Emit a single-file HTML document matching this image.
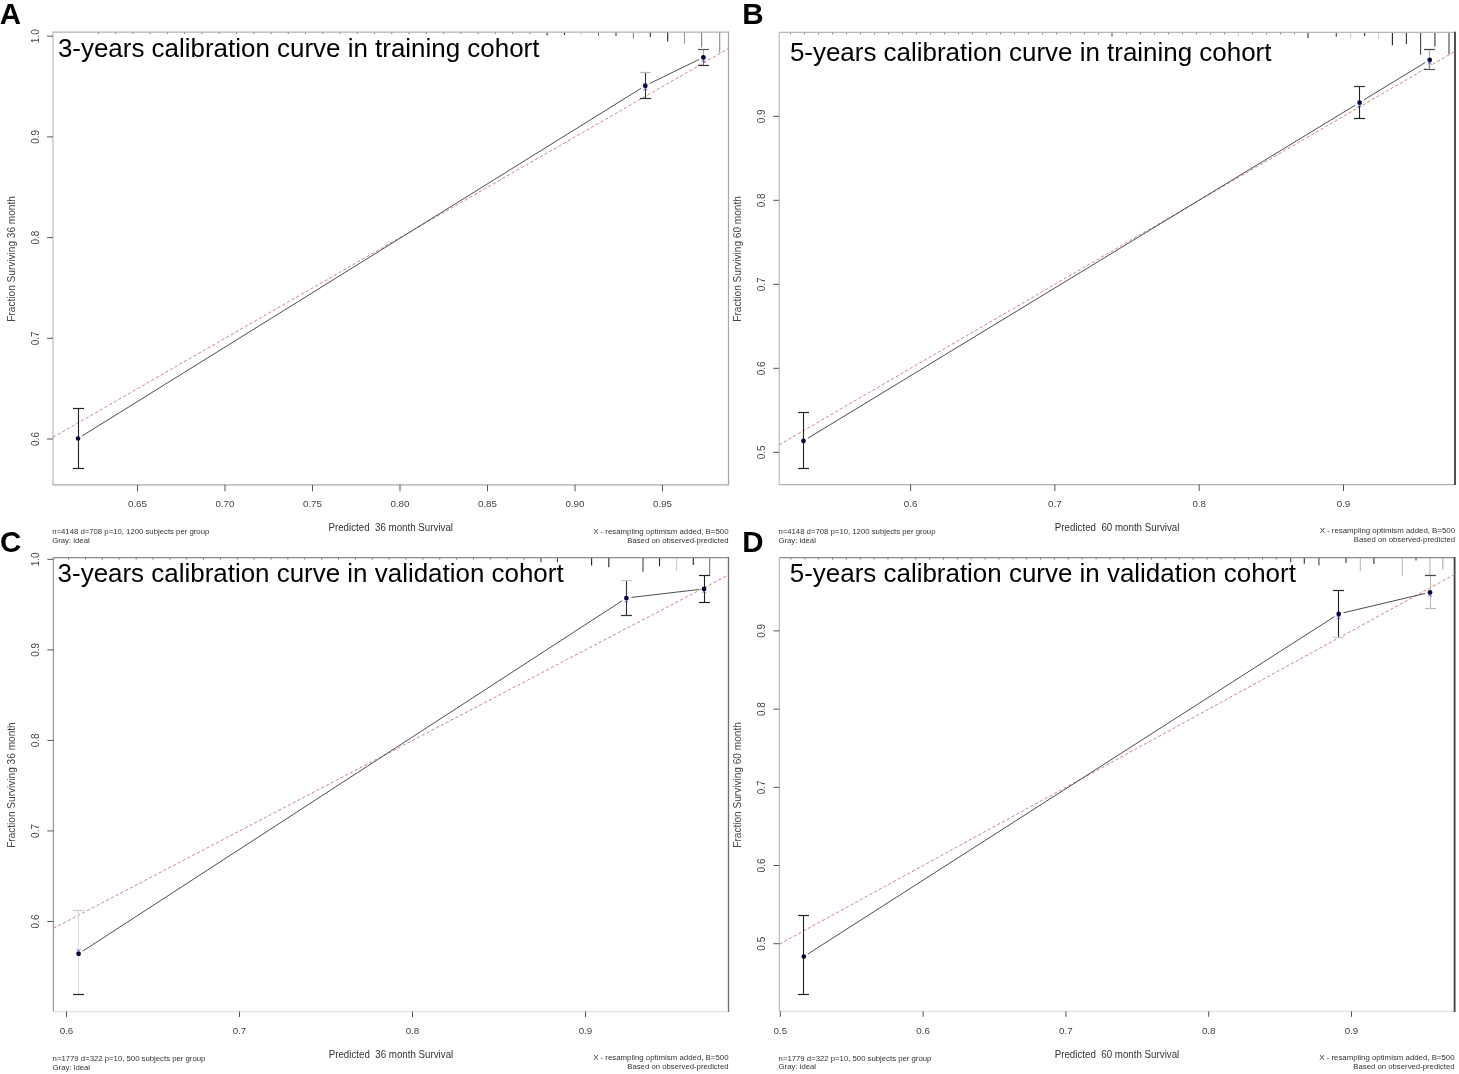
<!DOCTYPE html><html><head><meta charset="utf-8"><title>Calibration curves</title><style>html,body{margin:0;padding:0;background:#fff;}svg{display:block;}text{font-family:"Liberation Sans",Arial,sans-serif;}</style></head><body>
<svg width="1459" height="1074" viewBox="0 0 1459 1074">
<rect width="1459" height="1074" fill="#fff"/>
<text transform="translate(-0.3 24.3)" font-size="29.5" font-weight="bold" fill="#000">A</text>
<path d="M98.4 32v2M115.66 32v2M132.92 32v2M150.18 32v2M167.44 32v2M184.7 32v2M201.96 32v2M219.22 32v2M236.48 32v2M253.74 32v2M271 32v2M288.26 32v2M305.52 32v2M322.78 32v2M340.04 32v2M357.3 32v2M374.56 32v2M391.82 32v2M409.08 32v2M426.34 32v2M443.6 32v2M460.86 32v2M478.12 32v2M495.38 32v2M512.64 32v2M529.9 32v2" stroke="#777" stroke-width="1" fill="none"/>
<path d="M547.1 32V35.6" stroke="#333" stroke-width="1.1" fill="none"/>
<path d="M564.5 32V35" stroke="#333" stroke-width="1.1" fill="none"/>
<path d="M581.4 32V34.2" stroke="#ccc" stroke-width="1.1" fill="none"/>
<path d="M598.5 32V36" stroke="#777" stroke-width="1.1" fill="none"/>
<path d="M616 32V36" stroke="#333" stroke-width="1.1" fill="none"/>
<path d="M633.4 32V38.6" stroke="#888" stroke-width="1.1" fill="none"/>
<path d="M650.3 32V37.2" stroke="#333" stroke-width="1.1" fill="none"/>
<path d="M667.7 32V41.6" stroke="#222" stroke-width="1.1" fill="none"/>
<path d="M684.5 32V43.9" stroke="#999" stroke-width="1.1" fill="none"/>
<path d="M701.6 32V47.6" stroke="#888" stroke-width="1.1" fill="none"/>
<path d="M719.7 32V52.6" stroke="#888" stroke-width="1.1" fill="none"/>
<path d="M53 32H728.5" stroke="#b2b2b2" stroke-width="1.25" fill="none"/>
<path d="M53 31.4V485.4" stroke="#bdbdbd" stroke-width="1.25" fill="none"/>
<path d="M53 484.8H728.5" stroke="#a8a8a8" stroke-width="1.25" fill="none"/>
<path d="M728.5 31.4V485.4" stroke="#a8a8a8" stroke-width="1.2" fill="none"/>
<path d="M47 439H53" stroke="#555" stroke-width="1"/>
<text transform="translate(38.7 439) rotate(-90)" text-anchor="middle" font-size="10" fill="#444">0.6</text>
<path d="M47 338.3H53" stroke="#555" stroke-width="1"/>
<text transform="translate(38.7 338.3) rotate(-90)" text-anchor="middle" font-size="10" fill="#444">0.7</text>
<path d="M47 237.6H53" stroke="#555" stroke-width="1"/>
<text transform="translate(38.7 237.6) rotate(-90)" text-anchor="middle" font-size="10" fill="#444">0.8</text>
<path d="M47 136.9H53" stroke="#555" stroke-width="1"/>
<text transform="translate(38.7 136.9) rotate(-90)" text-anchor="middle" font-size="10" fill="#444">0.9</text>
<path d="M47 36.2H53" stroke="#555" stroke-width="1"/>
<text transform="translate(38.7 36.2) rotate(-90)" text-anchor="middle" font-size="10" fill="#444">1.0</text>
<path d="M137.5 484.8V491.3" stroke="#555" stroke-width="1"/>
<text x="137.5" y="507" text-anchor="middle" font-size="9.8" fill="#444">0.65</text>
<path d="M225 484.8V491.3" stroke="#555" stroke-width="1"/>
<text x="225" y="507" text-anchor="middle" font-size="9.8" fill="#444">0.70</text>
<path d="M312.5 484.8V491.3" stroke="#555" stroke-width="1"/>
<text x="312.5" y="507" text-anchor="middle" font-size="9.8" fill="#444">0.75</text>
<path d="M400 484.8V491.3" stroke="#555" stroke-width="1"/>
<text x="400" y="507" text-anchor="middle" font-size="9.8" fill="#444">0.80</text>
<path d="M487.5 484.8V491.3" stroke="#555" stroke-width="1"/>
<text x="487.5" y="507" text-anchor="middle" font-size="9.8" fill="#444">0.85</text>
<path d="M575 484.8V491.3" stroke="#555" stroke-width="1"/>
<text x="575" y="507" text-anchor="middle" font-size="9.8" fill="#444">0.90</text>
<path d="M662.5 484.8V491.3" stroke="#555" stroke-width="1"/>
<text x="662.5" y="507" text-anchor="middle" font-size="9.8" fill="#444">0.95</text>
<text transform="translate(15 258.9) rotate(-90)" text-anchor="middle" font-size="10.3" fill="#444" textLength="125.5" lengthAdjust="spacingAndGlyphs">Fraction Surviving 36 month</text>
<text x="390.75" y="531.4" text-anchor="middle" font-size="10.3" fill="#333" textLength="124.6" lengthAdjust="spacingAndGlyphs">Predicted&#160; 36 month Survival</text>
<text x="52.2" y="534" font-size="7.75" fill="#333">n=4148 d=708 p=10, 1200 subjects per group</text>
<text x="52.2" y="542.9" font-size="7.75" fill="#333">Gray: ideal</text>
<text x="728.5" y="533.6" text-anchor="end" font-size="7.85" fill="#333">X - resampling optimism added, B=500</text>
<text x="728.5" y="542.6" text-anchor="end" font-size="7.75" fill="#333">Based on observed-predicted</text>
<text x="57.9" y="57" font-size="25.95" fill="#000">3-years calibration curve in training cohort</text>
<path d="M53 437.27L728.5 48.57" stroke="#cf7b7b" stroke-width="0.95" stroke-dasharray="3.2 2.2" fill="none"/>
<path d="M82.25 435.86L641.05 88.34M649.79 83.5L698.91 59.5" stroke="#3a3a3a" stroke-width="0.9" fill="none"/>
<path d="M78.5 408.5V438.5" stroke="#222" stroke-width="1.1" fill="none"/>
<path d="M78.5 438.5V468.5" stroke="#222" stroke-width="1.1" fill="none"/>
<path d="M73 408.5H84" stroke="#222" stroke-width="1.2" fill="none"/>
<path d="M73 468.5H84" stroke="#222" stroke-width="1.2" fill="none"/>
<circle cx="78" cy="438.5" r="2.35" fill="#06063a"/>
<path d="M645.5 72.5V85.7" stroke="#333" stroke-width="1.1" fill="none"/>
<path d="M645.5 85.7V98.5" stroke="#333" stroke-width="1.1" fill="none"/>
<path d="M640 72.5H651" stroke="#bbb" stroke-width="1.2" fill="none"/>
<path d="M640 98.5H651" stroke="#333" stroke-width="1.2" fill="none"/>
<path d="M643.3 87l4 3M647.3 87l-4 3" stroke="#6a6ad8" stroke-width="0.9" fill="none"/>
<circle cx="645.3" cy="85.7" r="2.35" fill="#06063a"/>
<path d="M703.5 49.5V57.3" stroke="#aaa" stroke-width="1.1" fill="none"/>
<path d="M703.5 57.3V65.5" stroke="#666" stroke-width="1.1" fill="none"/>
<path d="M698 49.5H709" stroke="#555" stroke-width="1.2" fill="none"/>
<path d="M698 65.5H709" stroke="#333" stroke-width="1.2" fill="none"/>
<path d="M701.4 58.9l4 3M705.4 58.9l-4 3" stroke="#6a6ad8" stroke-width="0.9" fill="none"/>
<circle cx="703.4" cy="57.3" r="2.35" fill="#06063a"/>
<text transform="translate(742.3 24.2)" font-size="29.5" font-weight="bold" fill="#000">B</text>
<path d="M790.5 32.3v2M804.5 32.3v2M818.5 32.3v2M832.5 32.3v2M846.5 32.3v2M860.5 32.3v2M874.5 32.3v2M888.5 32.3v2M902.5 32.3v2M916.5 32.3v2M930.5 32.3v2M944.5 32.3v2M958.5 32.3v2M972.5 32.3v2M986.5 32.3v2M1000.5 32.3v2M1014.5 32.3v2M1028.5 32.3v2M1042.5 32.3v2M1056.5 32.3v2M1070.5 32.3v2M1084.5 32.3v2M1098.5 32.3v2M1126.5 32.3v2M1140.5 32.3v2M1154.5 32.3v2M1168.5 32.3v2M1182.5 32.3v2M1196.5 32.3v2M1210.5 32.3v2M1224.5 32.3v2M1252.5 32.3v2M1266.5 32.3v2M1280.5 32.3v2M1294.5 32.3v2" stroke="#777" stroke-width="1" fill="none"/>
<path d="M1112 32.3V36.5" stroke="#555" stroke-width="1.1" fill="none"/>
<path d="M1238.4 32.3V36.5" stroke="#ccc" stroke-width="1.1" fill="none"/>
<path d="M1308 32.3V38.1" stroke="#333" stroke-width="1.1" fill="none"/>
<path d="M1336.3 32.3V36.8" stroke="#444" stroke-width="1.1" fill="none"/>
<path d="M1350.6 32.3V38" stroke="#ccc" stroke-width="1.1" fill="none"/>
<path d="M1364.6 32.3V36" stroke="#333" stroke-width="1.1" fill="none"/>
<path d="M1378.5 32.3V38.5" stroke="#ccc" stroke-width="1.1" fill="none"/>
<path d="M1392.4 32.3V45.3" stroke="#222" stroke-width="1.1" fill="none"/>
<path d="M1406.4 32.3V44" stroke="#333" stroke-width="1.1" fill="none"/>
<path d="M1420.6 32.3V54.7" stroke="#444" stroke-width="1.1" fill="none"/>
<path d="M1434.9 32.3V46.6" stroke="#333" stroke-width="1.1" fill="none"/>
<path d="M1449 32.3V54.3" stroke="#444" stroke-width="1.1" fill="none"/>
<path d="M779.2 32.3H1455" stroke="#b8b8b8" stroke-width="1.25" fill="none"/>
<path d="M779.2 31.7V485.1" stroke="#c0c0c0" stroke-width="1.25" fill="none"/>
<path d="M779.2 484.5H1455" stroke="#b0b0b0" stroke-width="1.25" fill="none"/>
<path d="M1455 31.7V485.1" stroke="#404040" stroke-width="1.8" fill="none"/>
<path d="M773.2 452.3H779.2" stroke="#555" stroke-width="1"/>
<text transform="translate(764.9 452.3) rotate(-90)" text-anchor="middle" font-size="10" fill="#444">0.5</text>
<path d="M773.2 368.3H779.2" stroke="#555" stroke-width="1"/>
<text transform="translate(764.9 368.3) rotate(-90)" text-anchor="middle" font-size="10" fill="#444">0.6</text>
<path d="M773.2 284.3H779.2" stroke="#555" stroke-width="1"/>
<text transform="translate(764.9 284.3) rotate(-90)" text-anchor="middle" font-size="10" fill="#444">0.7</text>
<path d="M773.2 200.3H779.2" stroke="#555" stroke-width="1"/>
<text transform="translate(764.9 200.3) rotate(-90)" text-anchor="middle" font-size="10" fill="#444">0.8</text>
<path d="M773.2 116.3H779.2" stroke="#555" stroke-width="1"/>
<text transform="translate(764.9 116.3) rotate(-90)" text-anchor="middle" font-size="10" fill="#444">0.9</text>
<path d="M910.6 484.5V491" stroke="#555" stroke-width="1"/>
<text x="910.6" y="507" text-anchor="middle" font-size="9.8" fill="#444">0.6</text>
<path d="M1054.9 484.5V491" stroke="#555" stroke-width="1"/>
<text x="1054.9" y="507" text-anchor="middle" font-size="9.8" fill="#444">0.7</text>
<path d="M1199.2 484.5V491" stroke="#555" stroke-width="1"/>
<text x="1199.2" y="507" text-anchor="middle" font-size="9.8" fill="#444">0.8</text>
<path d="M1343.5 484.5V491" stroke="#555" stroke-width="1"/>
<text x="1343.5" y="507" text-anchor="middle" font-size="9.8" fill="#444">0.9</text>
<text transform="translate(741.2 258.9) rotate(-90)" text-anchor="middle" font-size="10.3" fill="#444" textLength="125.5" lengthAdjust="spacingAndGlyphs">Fraction Surviving 60 month</text>
<text x="1117.1" y="531.1" text-anchor="middle" font-size="10.3" fill="#333" textLength="124.6" lengthAdjust="spacingAndGlyphs">Predicted&#160; 60 month Survival</text>
<text x="778.4" y="533.7" font-size="7.75" fill="#333">n=4148 d=708 p=10, 1200 subjects per group</text>
<text x="778.4" y="542.6" font-size="7.75" fill="#333">Gray: ideal</text>
<text x="1455" y="533.3" text-anchor="end" font-size="7.85" fill="#333">X - resampling optimism added, B=500</text>
<text x="1455" y="542.3" text-anchor="end" font-size="7.75" fill="#333">Based on observed-predicted</text>
<text x="789.9" y="61.4" font-size="25.95" fill="#000">5-years calibration curve in training cohort</text>
<path d="M779.2 444.79L1455 51.39" stroke="#cf7b7b" stroke-width="0.95" stroke-dasharray="3.2 2.2" fill="none"/>
<path d="M807.77 438.3L1355.33 105.1M1363.87 99.9L1425.43 62.4" stroke="#3a3a3a" stroke-width="0.9" fill="none"/>
<path d="M803.5 412.5V440.9" stroke="#222" stroke-width="1.1" fill="none"/>
<path d="M803.5 440.9V468.5" stroke="#222" stroke-width="1.1" fill="none"/>
<path d="M798 412.5H809" stroke="#222" stroke-width="1.2" fill="none"/>
<path d="M798 468.5H809" stroke="#222" stroke-width="1.2" fill="none"/>
<circle cx="803.5" cy="440.9" r="2.35" fill="#06063a"/>
<path d="M1359.5 86.5V102.5" stroke="#222" stroke-width="1.1" fill="none"/>
<path d="M1359.5 102.5V118.5" stroke="#222" stroke-width="1.1" fill="none"/>
<path d="M1354 86.5H1365" stroke="#333" stroke-width="1.2" fill="none"/>
<path d="M1354 118.5H1365" stroke="#222" stroke-width="1.2" fill="none"/>
<path d="M1357.6 104l4 3M1361.6 104l-4 3" stroke="#6a6ad8" stroke-width="0.9" fill="none"/>
<circle cx="1359.6" cy="102.5" r="2.35" fill="#06063a"/>
<path d="M1429.5 49.5V59.8" stroke="#aaa" stroke-width="1.1" fill="none"/>
<path d="M1429.5 59.8V69.5" stroke="#999" stroke-width="1.1" fill="none"/>
<path d="M1424 49.5H1435" stroke="#444" stroke-width="1.2" fill="none"/>
<path d="M1424 69.5H1435" stroke="#555" stroke-width="1.2" fill="none"/>
<path d="M1427.7 61.5l4 3M1431.7 61.5l-4 3" stroke="#6a6ad8" stroke-width="0.9" fill="none"/>
<circle cx="1429.7" cy="59.8" r="2.35" fill="#06063a"/>
<text transform="translate(0 552.3)" font-size="29.5" font-weight="bold" fill="#000">C</text>
<path d="M68.6 557.7v2M85.47 557.7v2M102.34 557.7v2M119.21 557.7v2M136.08 557.7v2M152.95 557.7v2M169.82 557.7v2M186.69 557.7v2M203.56 557.7v2M220.43 557.7v2M237.3 557.7v2M254.17 557.7v2M271.04 557.7v2M287.91 557.7v2M304.78 557.7v2M321.65 557.7v2M338.52 557.7v2M355.39 557.7v2M372.26 557.7v2M389.13 557.7v2M406 557.7v2M422.87 557.7v2M439.74 557.7v2M456.61 557.7v2M473.48 557.7v2M490.35 557.7v2M507.22 557.7v2M524.09 557.7v2" stroke="#777" stroke-width="1" fill="none"/>
<path d="M541 557.7V562.2" stroke="#444" stroke-width="1.1" fill="none"/>
<path d="M557.4 557.7V562.2" stroke="#444" stroke-width="1.1" fill="none"/>
<path d="M591.6 557.7V565.6" stroke="#222" stroke-width="1.1" fill="none"/>
<path d="M608.8 557.7V567.3" stroke="#222" stroke-width="1.1" fill="none"/>
<path d="M643 557.7V571.8" stroke="#444" stroke-width="1.1" fill="none"/>
<path d="M659.5 557.7V566.3" stroke="#222" stroke-width="1.1" fill="none"/>
<path d="M676.6 557.7V571.1" stroke="#ccc" stroke-width="1.1" fill="none"/>
<path d="M693.3 557.7V565" stroke="#222" stroke-width="1.1" fill="none"/>
<path d="M709.7 557.7V575.2" stroke="#777" stroke-width="1.1" fill="none"/>
<path d="M53.4 557.7H728.5" stroke="#8a8a8a" stroke-width="1.25" fill="none"/>
<path d="M53.4 557.1V1012.1" stroke="#9a9a9a" stroke-width="1.25" fill="none"/>
<path d="M53.4 1011.5H728.5" stroke="#e0e0e0" stroke-width="1.25" fill="none"/>
<path d="M728.5 557.1V1012.1" stroke="#707070" stroke-width="1.3" fill="none"/>
<path d="M47.4 921.5H53.4" stroke="#555" stroke-width="1"/>
<text transform="translate(39.1 921.5) rotate(-90)" text-anchor="middle" font-size="10" fill="#444">0.6</text>
<path d="M47.4 830.95H53.4" stroke="#555" stroke-width="1"/>
<text transform="translate(39.1 830.95) rotate(-90)" text-anchor="middle" font-size="10" fill="#444">0.7</text>
<path d="M47.4 740.4H53.4" stroke="#555" stroke-width="1"/>
<text transform="translate(39.1 740.4) rotate(-90)" text-anchor="middle" font-size="10" fill="#444">0.8</text>
<path d="M47.4 649.85H53.4" stroke="#555" stroke-width="1"/>
<text transform="translate(39.1 649.85) rotate(-90)" text-anchor="middle" font-size="10" fill="#444">0.9</text>
<path d="M47.4 559.3H53.4" stroke="#555" stroke-width="1"/>
<text transform="translate(39.1 559.3) rotate(-90)" text-anchor="middle" font-size="10" fill="#444">1.0</text>
<path d="M66.5 1011.5V1017" stroke="#555" stroke-width="1"/>
<text x="66.5" y="1034" text-anchor="middle" font-size="9.8" fill="#444">0.6</text>
<path d="M239.5 1011.5V1017" stroke="#555" stroke-width="1"/>
<text x="239.5" y="1034" text-anchor="middle" font-size="9.8" fill="#444">0.7</text>
<path d="M412.5 1011.5V1017" stroke="#555" stroke-width="1"/>
<text x="412.5" y="1034" text-anchor="middle" font-size="9.8" fill="#444">0.8</text>
<path d="M585.5 1011.5V1017" stroke="#555" stroke-width="1"/>
<text x="585.5" y="1034" text-anchor="middle" font-size="9.8" fill="#444">0.9</text>
<text transform="translate(15.4 785.1) rotate(-90)" text-anchor="middle" font-size="10.3" fill="#444" textLength="125.5" lengthAdjust="spacingAndGlyphs">Fraction Surviving 36 month</text>
<text x="390.95" y="1058.1" text-anchor="middle" font-size="10.3" fill="#333" textLength="124.6" lengthAdjust="spacingAndGlyphs">Predicted&#160; 36 month Survival</text>
<text x="52.6" y="1060.7" font-size="7.75" fill="#333">n=1779 d=322 p=10, 500 subjects per group</text>
<text x="52.6" y="1069.6" font-size="7.75" fill="#333">Gray: ideal</text>
<text x="728.5" y="1060.3" text-anchor="end" font-size="7.85" fill="#333">X - resampling optimism added, B=500</text>
<text x="728.5" y="1069.3" text-anchor="end" font-size="7.75" fill="#333">Based on observed-predicted</text>
<text x="57.6" y="582.4" font-size="25.95" fill="#000">3-years calibration curve in validation cohort</text>
<path d="M53.4 928.36L728.5 575" stroke="#cf7b7b" stroke-width="0.95" stroke-dasharray="3.2 2.2" fill="none"/>
<path d="M82.79 951.08L622.21 600.72M631.37 597.42L699.13 589.48" stroke="#3a3a3a" stroke-width="0.9" fill="none"/>
<path d="M78.5 910.5V953.8" stroke="#ddd" stroke-width="1.1" fill="none"/>
<path d="M78.5 953.8V994.5" stroke="#ddd" stroke-width="1.1" fill="none"/>
<path d="M73 910.5H84" stroke="#ccc" stroke-width="1.2" fill="none"/>
<path d="M73 994.5H84" stroke="#222" stroke-width="1.2" fill="none"/>
<path d="M76.6 949.1l4 3M80.6 949.1l-4 3" stroke="#6a6ad8" stroke-width="0.9" fill="none"/>
<circle cx="78.6" cy="953.8" r="2.35" fill="#06063a"/>
<path d="M626.5 580.5V598" stroke="#333" stroke-width="1.1" fill="none"/>
<path d="M626.5 598V615.5" stroke="#333" stroke-width="1.1" fill="none"/>
<path d="M621 580.5H632" stroke="#ccc" stroke-width="1.2" fill="none"/>
<path d="M621 615.5H632" stroke="#333" stroke-width="1.2" fill="none"/>
<path d="M624.4 599l4 3M628.4 599l-4 3" stroke="#6a6ad8" stroke-width="0.9" fill="none"/>
<circle cx="626.4" cy="598" r="2.35" fill="#06063a"/>
<path d="M704.5 575.5V588.9" stroke="#222" stroke-width="1.1" fill="none"/>
<path d="M704.5 588.9V602.5" stroke="#222" stroke-width="1.1" fill="none"/>
<path d="M699 575.5H710" stroke="#222" stroke-width="1.2" fill="none"/>
<path d="M699 602.5H710" stroke="#222" stroke-width="1.2" fill="none"/>
<path d="M702.1 590l4 3M706.1 590l-4 3" stroke="#6a6ad8" stroke-width="0.9" fill="none"/>
<circle cx="704.1" cy="588.9" r="2.35" fill="#06063a"/>
<text transform="translate(742.2 551.9)" font-size="29.5" font-weight="bold" fill="#000">D</text>
<path d="M790.9 557.6v2M804.77 557.6v2M818.64 557.6v2M832.51 557.6v2M846.38 557.6v2M860.25 557.6v2M874.12 557.6v2M887.99 557.6v2M901.86 557.6v2M915.73 557.6v2M929.6 557.6v2M943.47 557.6v2M957.34 557.6v2M971.21 557.6v2M985.08 557.6v2M998.95 557.6v2M1012.82 557.6v2M1026.69 557.6v2M1040.56 557.6v2M1054.43 557.6v2M1068.3 557.6v2M1082.17 557.6v2M1096.04 557.6v2M1109.91 557.6v2M1123.78 557.6v2M1137.65 557.6v2M1151.52 557.6v2M1165.39 557.6v2M1179.26 557.6v2M1193.13 557.6v2M1207 557.6v2M1220.87 557.6v2M1234.74 557.6v2M1248.61 557.6v2M1262.48 557.6v2M1276.35 557.6v2" stroke="#777" stroke-width="1" fill="none"/>
<path d="M1290.7 557.6V562.2" stroke="#444" stroke-width="1.1" fill="none"/>
<path d="M1304.3 557.6V563.8" stroke="#333" stroke-width="1.1" fill="none"/>
<path d="M1318.9 557.6V565.6" stroke="#444" stroke-width="1.1" fill="none"/>
<path d="M1346 557.6V562.9" stroke="#333" stroke-width="1.1" fill="none"/>
<path d="M1360.3 557.6V571" stroke="#bbb" stroke-width="1.1" fill="none"/>
<path d="M1373.9 557.6V564" stroke="#333" stroke-width="1.1" fill="none"/>
<path d="M1402.3 557.6V576.5" stroke="#bbb" stroke-width="1.1" fill="none"/>
<path d="M1416 557.6V560.5" stroke="#444" stroke-width="1.1" fill="none"/>
<path d="M1429.9 557.6V575" stroke="#bbb" stroke-width="1.1" fill="none"/>
<path d="M1442.8 557.6V569.7" stroke="#aaa" stroke-width="1.1" fill="none"/>
<path d="M779.4 557.6H1454.6" stroke="#8a8a8a" stroke-width="1.25" fill="none"/>
<path d="M779.4 557V1011.9" stroke="#bbbbbb" stroke-width="1.25" fill="none"/>
<path d="M779.4 1011.3H1454.6" stroke="#e0e0e0" stroke-width="1.25" fill="none"/>
<path d="M1454.6 557V1011.9" stroke="#404040" stroke-width="1.8" fill="none"/>
<path d="M773.4 943.7H779.4" stroke="#555" stroke-width="1"/>
<text transform="translate(765.1 943.7) rotate(-90)" text-anchor="middle" font-size="10" fill="#444">0.5</text>
<path d="M773.4 865.5H779.4" stroke="#555" stroke-width="1"/>
<text transform="translate(765.1 865.5) rotate(-90)" text-anchor="middle" font-size="10" fill="#444">0.6</text>
<path d="M773.4 787.3H779.4" stroke="#555" stroke-width="1"/>
<text transform="translate(765.1 787.3) rotate(-90)" text-anchor="middle" font-size="10" fill="#444">0.7</text>
<path d="M773.4 709.1H779.4" stroke="#555" stroke-width="1"/>
<text transform="translate(765.1 709.1) rotate(-90)" text-anchor="middle" font-size="10" fill="#444">0.8</text>
<path d="M773.4 630.9H779.4" stroke="#555" stroke-width="1"/>
<text transform="translate(765.1 630.9) rotate(-90)" text-anchor="middle" font-size="10" fill="#444">0.9</text>
<path d="M780.3 1011.3V1016.8" stroke="#555" stroke-width="1"/>
<text x="780.3" y="1034" text-anchor="middle" font-size="9.8" fill="#444">0.5</text>
<path d="M923.1 1011.3V1016.8" stroke="#555" stroke-width="1"/>
<text x="923.1" y="1034" text-anchor="middle" font-size="9.8" fill="#444">0.6</text>
<path d="M1065.9 1011.3V1016.8" stroke="#555" stroke-width="1"/>
<text x="1065.9" y="1034" text-anchor="middle" font-size="9.8" fill="#444">0.7</text>
<path d="M1208.7 1011.3V1016.8" stroke="#555" stroke-width="1"/>
<text x="1208.7" y="1034" text-anchor="middle" font-size="9.8" fill="#444">0.8</text>
<path d="M1351.5 1011.3V1016.8" stroke="#555" stroke-width="1"/>
<text x="1351.5" y="1034" text-anchor="middle" font-size="9.8" fill="#444">0.9</text>
<text transform="translate(741.4 784.95) rotate(-90)" text-anchor="middle" font-size="10.3" fill="#444" textLength="125.5" lengthAdjust="spacingAndGlyphs">Fraction Surviving 60 month</text>
<text x="1117" y="1057.9" text-anchor="middle" font-size="10.3" fill="#333" textLength="124.6" lengthAdjust="spacingAndGlyphs">Predicted&#160; 60 month Survival</text>
<text x="778.6" y="1060.5" font-size="7.75" fill="#333">n=1779 d=322 p=10, 500 subjects per group</text>
<text x="778.6" y="1069.4" font-size="7.75" fill="#333">Gray: ideal</text>
<text x="1454.6" y="1060.1" text-anchor="end" font-size="7.85" fill="#333">X - resampling optimism added, B=500</text>
<text x="1454.6" y="1069.1" text-anchor="end" font-size="7.75" fill="#333">Based on observed-predicted</text>
<text x="789.8" y="582.3" font-size="25.95" fill="#000">5-years calibration curve in validation cohort</text>
<path d="M779.4 944.19L1454.6 574.44" stroke="#cf7b7b" stroke-width="0.95" stroke-dasharray="3.2 2.2" fill="none"/>
<path d="M808.01 953.9L1334.49 616.6M1343.57 612.75L1425.13 593.45" stroke="#3a3a3a" stroke-width="0.9" fill="none"/>
<path d="M803.5 915.5V956.6" stroke="#222" stroke-width="1.1" fill="none"/>
<path d="M803.5 956.6V994.5" stroke="#222" stroke-width="1.1" fill="none"/>
<path d="M798 915.5H809" stroke="#222" stroke-width="1.2" fill="none"/>
<path d="M798 994.5H809" stroke="#222" stroke-width="1.2" fill="none"/>
<circle cx="803.8" cy="956.6" r="2.35" fill="#06063a"/>
<path d="M1338.5 590.5V613.9" stroke="#222" stroke-width="1.1" fill="none"/>
<path d="M1338.5 613.9V637.5" stroke="#222" stroke-width="1.1" fill="none"/>
<path d="M1333 590.5H1344" stroke="#222" stroke-width="1.2" fill="none"/>
<path d="M1333 637.5H1344" stroke="#ccc" stroke-width="1.2" fill="none"/>
<path d="M1336.7 616l4 3M1340.7 616l-4 3" stroke="#6a6ad8" stroke-width="0.9" fill="none"/>
<circle cx="1338.7" cy="613.9" r="2.35" fill="#06063a"/>
<path d="M1430.5 575.5V592.3" stroke="#bbb" stroke-width="1.1" fill="none"/>
<path d="M1430.5 592.3V608.5" stroke="#bbb" stroke-width="1.1" fill="none"/>
<path d="M1425 575.5H1436" stroke="#444" stroke-width="1.2" fill="none"/>
<path d="M1425 608.5H1436" stroke="#bbb" stroke-width="1.2" fill="none"/>
<path d="M1428 593.7l4 3M1432 593.7l-4 3" stroke="#6a6ad8" stroke-width="0.9" fill="none"/>
<circle cx="1430" cy="592.3" r="2.35" fill="#06063a"/>
</svg></body></html>
